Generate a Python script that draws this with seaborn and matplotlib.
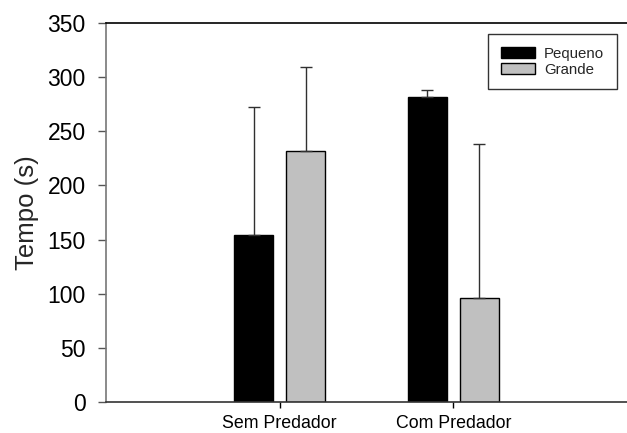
import matplotlib
matplotlib.use("Agg")
import matplotlib.pyplot as plt
import seaborn as sns
import pandas as pd

# Mean time per condition and prey size, with upper error
condicoes = ["Sem Predador", "Com Predador"]
tamanhos = ["Pequeno", "Grande"]
tempo_pequeno = [154, 282]
tempo_grande = [232, 96]
erro_pequeno = [119, 6]
erro_grande = [78, 142]
y_ticks = [0, 50, 100, 150, 200, 250, 300, 350]

df = pd.DataFrame({
    "condicao": condicoes * 2,
    "tamanho": [tamanhos[0]] * 2 + [tamanhos[1]] * 2,
    "tempo": tempo_pequeno + tempo_grande,
})
erros = {tamanhos[0]: erro_pequeno, tamanhos[1]: erro_grande}

sns.set_theme(style="white")
plt.rcParams["font.family"] = ["Liberation Sans", "DejaVu Sans"]

fig = plt.figure(figsize=(6.27, 4.33), dpi=100)
ax = fig.add_axes([0.169, 0.0725, 0.831, 0.8735])

sns.barplot(data=df, x="condicao", y="tempo", hue="tamanho",
            order=condicoes, hue_order=tamanhos,
            palette={"Pequeno": "#000000", "Grande": "#c0c0c0"},
            width=0.6, gap=0.25, errorbar=None,
            edgecolor="black", linewidth=1.0, saturation=1, ax=ax)

# upper-only error bars on each bar
for cont, nivel in zip(ax.containers, tamanhos):
    xs = [p.get_x() + p.get_width() / 2 for p in cont.patches]
    hs = [p.get_height() for p in cont.patches]
    ax.errorbar(xs, hs, yerr=[[0] * len(xs), erros[nivel]], fmt="none",
                ecolor="#303030", elinewidth=1.0, capsize=4.5, capthick=1.0,
                zorder=1)

ax.set_xlim(-1, 2)
ax.set_ylim(0, 350)
ax.set_yticks(y_ticks)
ax.set_yticklabels([str(t) for t in y_ticks], fontsize=16.5)
ax.set_xticks([0, 1])
ax.set_xticklabels(condicoes, fontsize=12.8)
ax.set_xlabel("")
ax.set_ylabel("Tempo (s)", fontsize=18.5, labelpad=6)

ax.spines["right"].set_visible(False)
ax.spines["top"].set_color("black")
ax.spines["bottom"].set_color("#333333")
ax.spines["left"].set_color("#777777")
for s in ["top", "bottom", "left"]:
    ax.spines[s].set_linewidth(1.2)
ax.tick_params(axis="y", direction="out", length=6, width=1, color="#555555",
               left=True, pad=8.5, labelcolor="black")
ax.tick_params(axis="x", direction="out", length=4, width=1, color="black",
               bottom=True, pad=5.5, labelcolor="black")

leg = ax.legend(loc="upper right", bbox_to_anchor=(0.981, 0.972),
                fontsize=10.8, frameon=True, fancybox=False, shadow=False,
                handlelength=2.3, handleheight=0.8, handletextpad=0.6,
                labelspacing=0.12, borderpad=0.85, borderaxespad=0)
leg.get_frame().set_edgecolor("black")
leg.get_frame().set_linewidth(1.0)

fig.savefig("out.png", dpi=100)
